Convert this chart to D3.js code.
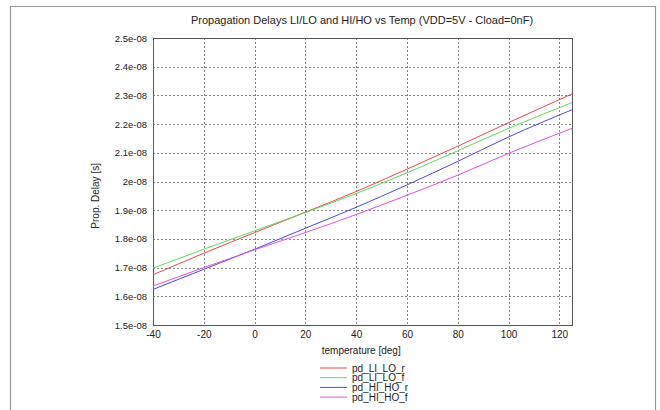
<!DOCTYPE html>
<html>
<head>
<meta charset="utf-8">
<script src="https://cdn.jsdelivr.net/npm/d3@7"></script>
<style>
  body { margin: 0; background: #fff; }
  text { font-family: "Liberation Sans", Arial, sans-serif; fill: #222; }
</style>
</head>
<body>
<svg id="chart" width="660" height="410"></svg>
<script>
// temperature points (deg) and delays (units of 1e-8 s)
var temps = [-40, -20, 0, 20, 40, 60, 80, 100, 125];
var pdLiLoR = [1.675, 1.750, 1.822, 1.893, 1.965, 2.043, 2.123, 2.205, 2.305];
var pdLiLoF = [1.698, 1.764, 1.828, 1.892, 1.958, 2.030, 2.107, 2.185, 2.275];
var pdHiHoR = [1.624, 1.694, 1.764, 1.837, 1.910, 1.988, 2.070, 2.155, 2.250];
var pdHiHoF = [1.636, 1.700, 1.762, 1.822, 1.885, 1.952, 2.022, 2.098, 2.185];
var seriesNames = ["pd_LI_LO_r", "pd_LI_LO_f", "pd_HI_HO_r", "pd_HI_HO_f"];
var seriesColors = ["#e34b4b", "#5fd85f", "#4c4cd6", "#e052e0"];
var xTicks = [-40, -20, 0, 20, 40, 60, 80, 100, 120];
var yTicks = [1.5, 1.6, 1.7, 1.8, 1.9, 2.0, 2.1, 2.2, 2.3, 2.4, 2.5];
var yTickLabels = ["1.5e-08", "1.6e-08", "1.7e-08", "1.8e-08", "1.9e-08", "2e-08",
                   "2.1e-08", "2.2e-08", "2.3e-08", "2.4e-08", "2.5e-08"];

var svg = d3.select("#chart");
var pLeft = 153, pRight = 572, pTop = 38, pBottom = 325;

var x = d3.scaleLinear().domain([-40, 125]).range([pLeft, pRight]);
var y = d3.scaleLinear().domain([1.5, 2.5]).range([pBottom, pTop]);

// outer frame
svg.append("path")
    .attr("d", "M10.5,420 V6.5 H655.5 V420")
    .attr("fill", "none").attr("stroke", "#999").attr("stroke-width", 1.2);

svg.append("text")
    .attr("x", 362).attr("y", 24)
    .attr("text-anchor", "middle")
    .style("font-size", "11px")
    .text("Propagation Delays LI/LO and HI/HO vs Temp (VDD=5V - Cload=0nF)");

// grid
var grid = svg.append("g").attr("stroke", "#444").attr("stroke-width", 0.8)
    .attr("stroke-dasharray", "2,2").attr("opacity", 0.8);
grid.selectAll(".vg").data(xTicks.slice(1)).enter().append("line")
    .attr("x1", function(d) { return Math.round(x(d)) + 0.5; })
    .attr("x2", function(d) { return Math.round(x(d)) + 0.5; })
    .attr("y1", pTop).attr("y2", pBottom);
grid.selectAll(".hg").data(yTicks.slice(1, -1)).enter().append("line")
    .attr("y1", function(d) { return Math.round(y(d)) + 0.5; })
    .attr("y2", function(d) { return Math.round(y(d)) + 0.5; })
    .attr("x1", pLeft).attr("x2", pRight);

// axes
var xAxis = d3.axisBottom(x).tickValues(xTicks).tickSize(0).tickPadding(6)
    .tickFormat(function(d) { return String(d); });
var gx = svg.append("g").attr("transform", "translate(0," + pBottom + ")").call(xAxis);
gx.select(".domain").remove();
gx.selectAll("text").style("font-size", "10px").attr("fill", "#222");

var yAxis = d3.axisLeft(y).tickValues(yTicks).tickSize(0).tickPadding(6)
    .tickFormat(function(d, i) { return yTickLabels[i]; });
var gy = svg.append("g").attr("transform", "translate(" + pLeft + ",0)").call(yAxis);
gy.select(".domain").remove();
gy.selectAll("text").style("font-size", "9.5px").attr("fill", "#222");

svg.append("rect")
    .attr("x", pLeft + 0.5).attr("y", pTop + 0.5)
    .attr("width", pRight - pLeft).attr("height", pBottom - pTop)
    .attr("fill", "none").attr("stroke", "#555").attr("stroke-width", 1);

// curves
var allSeries = [pdLiLoR, pdLiLoF, pdHiHoR, pdHiHoF];
var line = d3.line()
    .x(function(d, i) { return x(temps[i]); })
    .y(function(d) { return y(d); })
    .curve(d3.curveMonotoneX);
svg.append("g").selectAll("path").data(allSeries).enter().append("path")
    .attr("d", line)
    .attr("fill", "none")
    .attr("stroke", function(d, i) { return seriesColors[i]; })
    .attr("stroke-width", 1);

// labels
svg.append("text")
    .attr("x", x(42)).attr("y", 354)
    .attr("text-anchor", "middle").style("font-size", "10px")
    .text("temperature [deg]");
svg.append("text")
    .attr("transform", "translate(99," + y(1.95) + ") rotate(-90)")
    .attr("text-anchor", "middle").style("font-size", "10px")
    .text("Prop. Delay [s]");

// legend
var legend = svg.append("g").selectAll("g").data(seriesNames).enter().append("g")
    .attr("transform", function(d, i) { return "translate(0," + (368 + i * 9.7) + ")"; });
legend.append("line")
    .attr("x1", 320).attr("x2", 347).attr("y1", 0).attr("y2", 0)
    .attr("stroke", function(d, i) { return seriesColors[i]; });
legend.append("text")
    .attr("x", 352).attr("y", 3.5)
    .style("font-size", "10px")
    .text(function(d) { return d; });
</script>
</body>
</html>
